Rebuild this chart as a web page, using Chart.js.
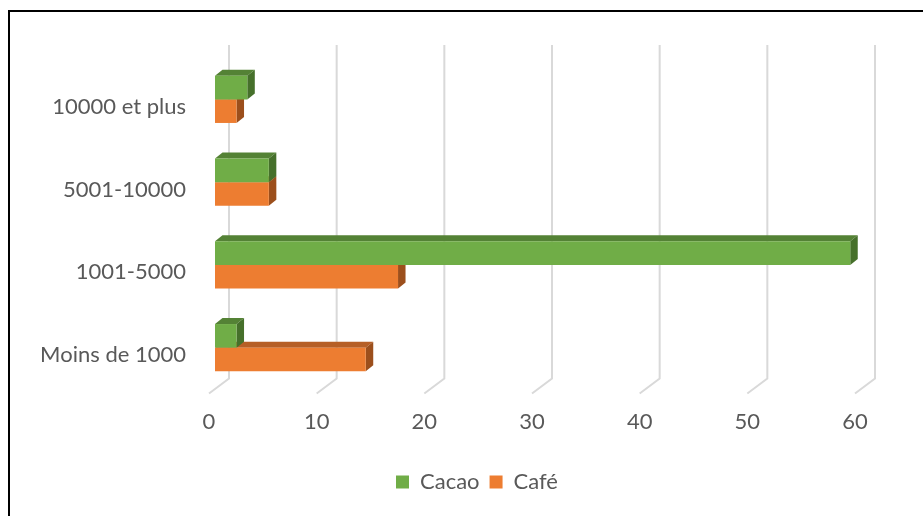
<!DOCTYPE html>
<html>
<head>
<meta charset="utf-8">
<script src="https://cdn.jsdelivr.net/npm/chart.js@4.4.1/dist/chart.umd.min.js"></script>
<style>
  html, body { margin: 0; padding: 0; background: #fff; }
</style>
</head>
<body>
<canvas id="myBarChart" width="923" height="516"></canvas>
<script>
// categories listed top to bottom, as on the chart
const categories = ['10000 et plus', '5001-10000', '1001-5000', 'Moins de 1000'];
const cacao = [3, 5, 59, 2];
const cafe = [2, 5, 17, 14];
const xTicks = [0, 10, 20, 30, 40, 50, 60];

const green = { front: '#70AD47', top: '#548235', side: '#46702B' };
const orange = { front: '#ED7D31', top: '#B65F26', side: '#9C4F1C' };

// px where the bar plane sits: 0 at 215, 60 at 861, canvas right edge 923
const xMax = 60 * (923 - 215) / (861 - 215);
const depth = { dx: 7.5, dy: -6 };

const bars3d = {
    id: 'bars3d',
    beforeDraw(chart) {
        const c = chart.ctx;
        c.save();
        c.fillStyle = '#000';
        c.fillRect(8, 10, 2, chart.height);
        c.fillRect(8, 10, chart.width, 2);
        c.restore();
    },
    beforeDatasetsDraw(chart) {
        const c = chart.ctx;
        const xs = chart.scales.x;
        const area = chart.chartArea;
        c.save();
        // back wall grid + floor diagonals
        c.strokeStyle = '#D9D9D9';
        c.lineWidth = 2;
        xTicks.forEach(function (v) {
            const px = xs.getPixelForValue(v) + 14;
            c.beginPath();
            c.moveTo(px, area.top - 13);
            c.lineTo(px, area.bottom - 10.5);
            c.lineTo(px - 20, area.bottom + 4.5);
            c.stroke();
        });
        // top and right faces, Café first so Cacao's side sits over it
        [[1, orange], [0, green]].forEach(function (d) {
            const meta = chart.getDatasetMeta(d[0]);
            meta.data.forEach(function (bar) {
                const p = bar.getProps(['x', 'y', 'base', 'height'], true);
                const top = p.y - p.height / 2, bot = p.y + p.height / 2;
                const x0 = p.base, x1 = p.x;
                c.fillStyle = d[1].top;
                c.beginPath();
                c.moveTo(x0, top);
                c.lineTo(x0 + depth.dx, top + depth.dy);
                c.lineTo(x1 + depth.dx, top + depth.dy);
                c.lineTo(x1, top);
                c.closePath();
                c.fill();
                c.fillStyle = d[1].side;
                c.beginPath();
                c.moveTo(x1, top);
                c.lineTo(x1 + depth.dx, top + depth.dy);
                c.lineTo(x1 + depth.dx, bot + depth.dy);
                c.lineTo(x1, bot);
                c.closePath();
                c.fill();
            });
        });
        c.restore();
    }
};

Chart.defaults.font.family = 'Lato';
Chart.defaults.font.size = 22;
Chart.defaults.color = '#595959';

const ctx = document.getElementById('myBarChart');
new Chart(ctx, {
    type: 'bar',
    data: {
        labels: categories,
        datasets: [{
            label: 'Cacao',
            data: cacao,
            backgroundColor: green.front,
            borderWidth: 0
        }, {
            label: 'Café',
            data: cafe,
            backgroundColor: orange.front,
            borderWidth: 0
        }]
    },
    options: {
        indexAxis: 'y',
        responsive: false,
        animation: false,
        events: [],
        layout: { padding: { left: 31, right: 0, top: 58, bottom: 13 } },
        datasets: { bar: { barPercentage: 1, categoryPercentage: 0.57 } },
        scales: {
            x: {
                min: 0,
                max: xMax,
                afterBuildTicks: function (scale) {
                    scale.ticks = xTicks.map(function (v) { return { value: v }; });
                },
                afterFit: function (scale) { scale.height = 72; },
                grid: { display: false, drawTicks: false },
                border: { display: false },
                ticks: { padding: 20, labelOffset: -6, maxRotation: 0, autoSkip: false }
            },
            y: {
                afterFit: function (scale) { scale.width = 184; },
                grid: { display: false, drawTicks: false },
                border: { display: false },
                ticks: { padding: 29, labelOffset: 7.5 }
            }
        },
        plugins: {
            legend: {
                position: 'bottom',
                labels: { boxWidth: 13, boxHeight: 13, padding: 10 }
            },
            tooltip: { enabled: false }
        }
    },
    plugins: [bars3d]
});
</script>
</body>
</html>
